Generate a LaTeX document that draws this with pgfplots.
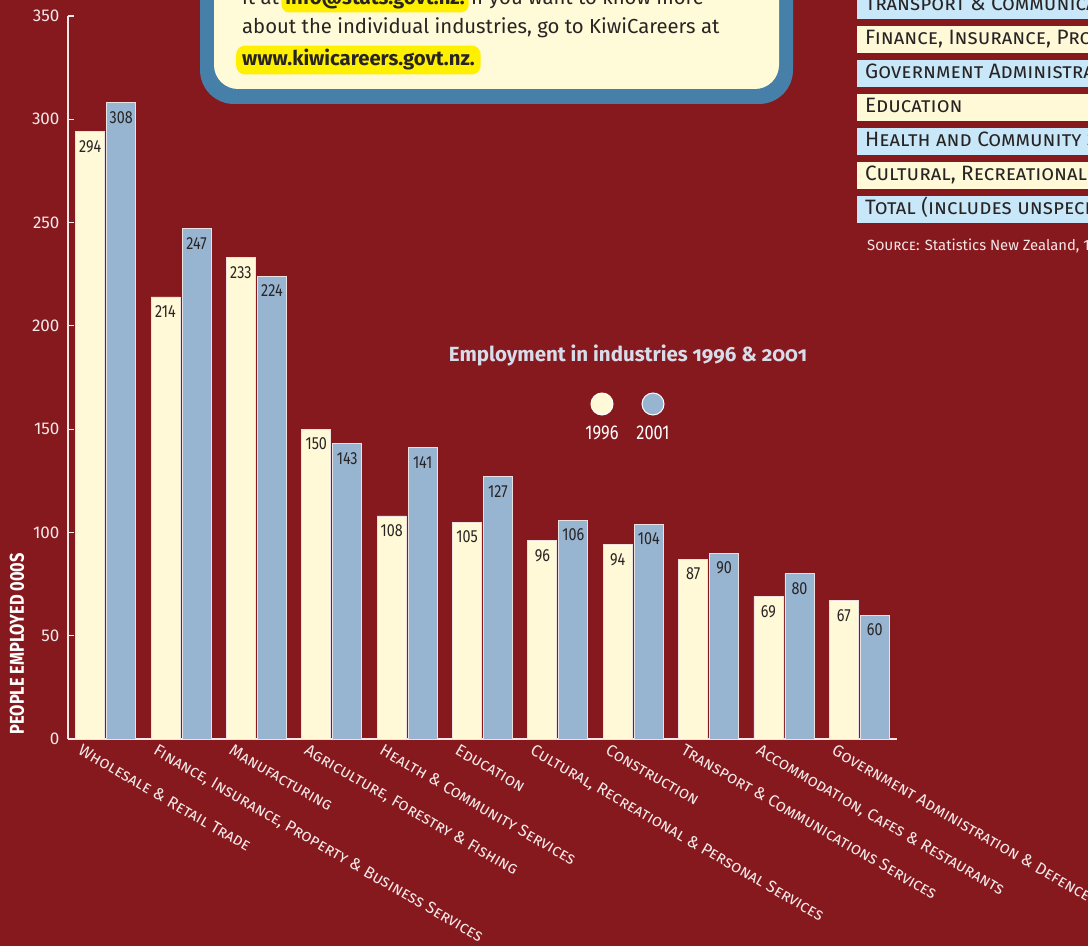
\documentclass[border=0pt]{standalone}
\usepackage{fontspec}
\setmainfont{Fira Sans}
\newfontfamily\condfont[FakeStretch=0.82]{Fira Sans}
\usepackage{pgfplots}
\pgfplotsset{compat=1.18}

\definecolor{bg}{RGB}{134,25,30}
\definecolor{creambar}{RGB}{255,249,215}
\definecolor{bluebar}{RGB}{151,180,208}
\definecolor{boxblue}{RGB}{70,128,168}
\definecolor{boxcream}{RGB}{255,250,216}
\definecolor{hl}{RGB}{255,240,0}
\definecolor{rowblue}{RGB}{200,232,250}
\definecolor{rowcream}{RGB}{255,249,215}
\definecolor{darktxt}{RGB}{40,36,36}
\definecolor{lighttxt}{RGB}{245,232,232}
\definecolor{titletxt}{RGB}{215,220,234}
\definecolor{barline}{RGB}{235,225,225}

\newcommand{\fs}[1]{\fontsize{#1}{#1}\selectfont}

\begin{document}
\begin{tikzpicture}
\useasboundingbox (0,0) rectangle (1088pt,946pt);
\clip (0,0) rectangle (1088pt,946pt);
\fill[bg] (0,0) rectangle (1088pt,946pt);

% top information box
\fill[boxblue, rounded corners=34pt] (200pt,842pt) rectangle (793pt,1010pt);
\fill[boxcream, rounded corners=24pt] (214pt,857pt) rectangle (779pt,1010pt);
\node[anchor=base west, inner sep=0pt, font=\fs{20.3}, text=darktxt] (l1a) at (242pt,941pt) {it at};
\node[anchor=base west, inner xsep=4pt, inner ysep=3pt, fill=hl, rounded corners=8pt, font=\bfseries\fs{20.3}, text=darktxt] (l1b) at ([xshift=2pt]l1a.base east) {info@stats.govt.nz.};
\node[anchor=base west, inner sep=0pt, font=\fs{20.3}, text=darktxt] at ([xshift=2pt]l1b.base east) {If you want to know more};
\node[anchor=base west, inner sep=0pt, font=\fs{20.3}, text=darktxt] at (242pt,912pt) {about the individual industries, go to KiwiCareers at};
\node[anchor=base west, inner xsep=6pt, inner ysep=4pt, fill=hl, rounded corners=9pt, font=\bfseries\fs{20.3}, text=darktxt] at (236pt,880pt) {www.kiwicareers.govt.nz.};

% right-hand table fragment
\foreach \yb/\c/\t in {927/rowblue/{Transport \& Communications Services},
  893/rowcream/{Finance, Insurance, Property \& Business Services},
  859/rowblue/{Government Administration \& Defence},
  825/rowcream/{Education},
  791/rowblue/{Health and Community Services},
  757/rowcream/{Cultural, Recreational \& Personal Services},
  723/rowblue/{Total (includes unspecified)}}{
  \fill[\c] (857pt,\yb pt) rectangle (1100pt,\yb pt+27pt);
  \node[anchor=base west, inner sep=0pt, font=\scshape\fs{20.8}, text=darktxt] at (865pt,\yb pt+8pt) {\t};
}
\node[anchor=base west, inner sep=0pt, font=\fs{14.8}, text=lighttxt] at (867pt,695pt) {\textsc{Source}: Statistics New Zealand, 1996 \& 2001 Censuses};

% title and legend
\node[font=\bfseries\fs{20.5}, text=titletxt] at (628pt,591pt) {\addfontfeatures{Numbers=OldStyle}Employment in industries 1996 \& 2001};
\fill[creambar, draw=white, line width=1pt] (602pt,542pt) circle (11pt);
\fill[bluebar, draw=white, line width=1pt] (653pt,542pt) circle (11pt);
\node[font=\condfont\fs{20}, text=white] at (602pt,513pt) {1996};
\node[font=\condfont\fs{20}, text=white] at (653pt,513pt) {2001};

% y label
\node[rotate=90, anchor=west, font=\condfont\bfseries\fs{20}, text=white] at (17pt,208pt) {PEOPLE EMPLOYED 000S};

\begin{axis}[
  at={(68pt,207pt)}, anchor=south west,
  scale only axis, width=829pt, height=723pt,
  xmin=-0.5, xmax=10.5, ymin=0, ymax=350,
  axis x line*=bottom, axis y line*=left,
  axis line style={draw=lighttxt, line width=1.2pt},
  ybar=2pt, bar width=29pt,
  xtick={0,...,10},
  xticklabels={{Wholesale \& Retail Trade},
    {Finance, Insurance, Property \& Business Services},
    {Manufacturing},
    {Agriculture, Forestry \& Fishing},
    {Health \& Community Services},
    {Education},
    {Cultural, Recreational \& Personal Services},
    {Construction},
    {Transport \& Communications Services},
    {Accommodation, Cafes \& Restaurants},
    {Government Administration \& Defence}},
  x tick style={draw=none},
  ytick={0,50,...,350},
  y tick style={draw=lighttxt, line width=1.2pt},
  tick align=inside, major tick length=6pt,
  /pgf/number format/assume math mode=true,
  yticklabel style={font=\fs{17}, text=lighttxt, xshift=-5pt},
  xticklabel style={font=\scshape\fs{16.5}, text=lighttxt, anchor=north west, xshift=-24pt, rotate=-30},
  nodes near coords,
  every node near coord/.append style={font=\condfont\fs{17.5}, text=darktxt, anchor=north, yshift=-5pt},
  clip=false,
]
\addplot[fill=creambar, draw=barline, line width=0.8pt] coordinates {
  (0,294) (1,214) (2,233) (3,150) (4,108) (5,105) (6,96) (7,94) (8,87) (9,69) (10,67)};
\addplot[fill=bluebar, draw=barline, line width=0.8pt] coordinates {
  (0,308) (1,247) (2,224) (3,143) (4,141) (5,127) (6,106) (7,104) (8,90) (9,80) (10,60)};
\end{axis}
\end{tikzpicture}
\end{document}
